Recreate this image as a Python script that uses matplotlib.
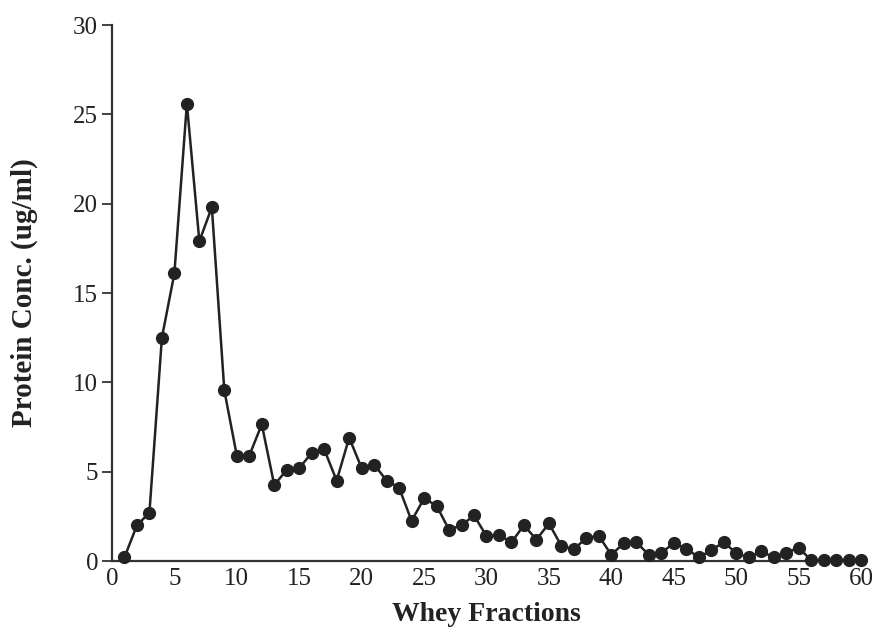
import matplotlib
matplotlib.use("Agg")
import matplotlib.pyplot as plt

fractions = list(range(1, 61))
protein = [
    0.2, 2.0, 2.7, 12.5, 16.1, 25.6, 17.9, 19.8, 9.55, 5.9,
    5.9, 7.65, 4.25, 5.1, 5.2, 6.05, 6.25, 4.5, 6.9, 5.2,
    5.4, 4.5, 4.1, 2.25, 3.5, 3.1, 1.75, 2.0, 2.55, 1.4,
    1.45, 1.05, 2.0, 1.2, 2.1, 0.85, 0.65, 1.3, 1.4, 0.35,
    1.0, 1.05, 0.35, 0.45, 1.0, 0.7, 0.2, 0.6, 1.05, 0.45,
    0.2, 0.55, 0.2, 0.45, 0.75, 0.05, 0.05, 0.05, 0.05, 0.05,
]
xticks = list(range(0, 61, 5))
yticks = list(range(0, 31, 5))

plt.rcParams["font.family"] = ["Liberation Serif", "DejaVu Serif"]

fig = plt.figure(figsize=(8.72, 6.3), dpi=100)
ax = fig.add_axes([0.1284, 0.1095, 0.859, 0.8508])

ax.plot(fractions, protein, color="#222222", linewidth=1.8, marker="o",
        markersize=8.5, clip_on=False, zorder=3)

ax.set_xlim(0, 60)
ax.set_ylim(0, 30)
ax.set_xticks(xticks)
ax.set_yticks(yticks)
ax.tick_params(axis="x", length=0, pad=5, labelsize=18, colors="#222222")
ax.tick_params(axis="y", length=7, width=1.2, pad=3, labelsize=18, colors="#222222")

for s in ["top", "right"]:
    ax.spines[s].set_visible(False)
for s in ["left", "bottom"]:
    ax.spines[s].set_linewidth(1.6)
    ax.spines[s].set_color("#333333")

ax.set_xlabel("Whey Fractions", fontsize=20, fontweight="bold", color="#222222", labelpad=9)
ax.set_ylabel("Protein Conc. (ug/ml)", fontsize=21, fontweight="bold", color="#222222", labelpad=25)

fig.savefig("out.png", dpi=100)
